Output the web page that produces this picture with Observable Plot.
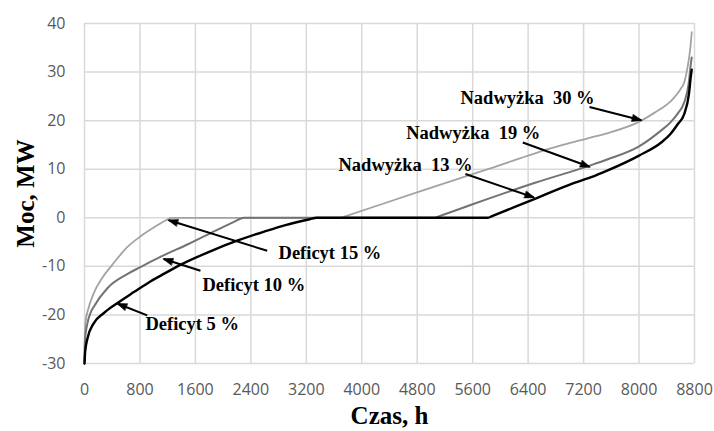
<!DOCTYPE html>
<html><head><meta charset="utf-8">
<script src="https://cdn.jsdelivr.net/npm/d3@7"></script>
<script src="https://cdn.jsdelivr.net/npm/@observablehq/plot@0.6"></script>
<style>html,body{margin:0;padding:0;background:#fff}</style>
</head><body><div id="chart"></div>
<script>
// Tick labels
const xTicks = [0, 800, 1600, 2400, 3200, 4000, 4800, 5600, 6400, 7200, 8000, 8800];
const yTicks = [-30, -20, -10, 0, 10, 20, 30, 40];

// Series: duration curves (hours, MW)
const hoursA = [0, 4, 14, 50, 134, 250, 400, 620, 800, 1000, 1150, 1260, 3700, 3760, 4850, 5820, 6750, 7300, 7540, 8020, 8220, 8450, 8600, 8650, 8700, 8740, 8760];
const mwA    = [-30, -25, -21.5, -19, -15.5, -12.5, -9.7, -6, -3.9, -2, -0.7, 0, 0, 0.28, 5.5, 10, 14.4, 16.5, 17.4, 19.9, 21.6, 23.9, 26.5, 27.8, 31, 35, 38.2];

const hoursB = [0, 8, 38, 90, 134, 330, 616, 800, 1100, 1500, 1900, 2150, 2300, 5050, 5110, 5330, 5820, 6500, 7300, 7540, 8000, 8320, 8450, 8560, 8650, 8715, 8750, 8760];
const mwB    = [-30, -25, -22, -19.5, -18.3, -14.5, -11.6, -10.2, -8.0, -5.4, -2.6, -0.9, 0, 0, 0.3, 1.4, 3.9, 7.2, 10.8, 12, 14.7, 18, 19.6, 21.5, 23.7, 27.5, 32, 33];

const hoursC = [0, 10, 40, 130, 280, 470, 712, 950, 1100, 1340, 1866, 2200, 2600, 2900, 3250, 3350, 5820, 5880, 6480, 7010, 7300, 7540, 8000, 8320, 8450, 8560, 8650, 8720, 8750, 8760];
const mwC    = [-30, -27.5, -25, -21.8, -19.6, -17.6, -15.3, -13.1, -11.9, -10.0, -6.6, -4.7, -2.8, -1.5, -0.3, 0, 0, 0.35, 3.8, 6.9, 8.3, 9.7, 12.8, 15.5, 17.2, 19.3, 21.3, 25.5, 29.5, 30.5];

// Annotations (data units)
const labelTexts = ["Nadwyżka  30 %", "Nadwyżka  19 %", "Nadwyżka  13 %", "Deficyt 15 %", "Deficyt 10 %", "Deficyt 5 %"];
const labelX = [5424, 4641, 3664, 2799, 1702, 880];
const labelY = [23.4, 16.2, 9.7, -8.4, -15.0, -23.2];
const arrowX1 = [7285, 6323, 5496, 2636, 1673, 905];
const arrowY1 = [22.8, 15.5, 9.0, -6.8, -10.9, -20.1];
const arrowX2 = [8031, 7285, 6482, 1216, 1144, 480];
const arrowY2 = [20.1, 10.5, 4.2, -0.5, -8.5, -17.7];

const toRows = (h, v) => h.map((x, i) => ({x, y: v[i]}));
const rowsA = toRows(hoursA, mwA);
const rowsB = toRows(hoursB, mwB);
const rowsC = toRows(hoursC, mwC);
const labels = labelTexts.map((t, i) => ({t, x: labelX[i], y: labelY[i]}));
const arrows = arrowX1.map((x1, i) => ({x1, y1: arrowY1[i], x2: arrowX2[i], y2: arrowY2[i]}));

const tickStyle = {tickSize: 0, fontSize: 16, fontFamily: "Open Sans", fill: "#595959", label: null, tickFormat: d => String(d)};
const titleStyle = {fontSize: 25, fontWeight: "bold", fontFamily: "Liberation Serif", fill: "#000", textAnchor: "middle", lineAnchor: "bottom"};

const plot = Plot.plot({
  width: 714, height: 431,
  marginTop: 23, marginBottom: 68, marginLeft: 84, marginRight: 20,
  x: {domain: [0, 8800]},
  y: {domain: [-30, 40]},
  style: {background: "#fff", overflow: "visible"},
  marks: [
    Plot.gridX(xTicks, {stroke: "#d9d9d9", strokeOpacity: 1, strokeWidth: 1.5}),
    Plot.gridY(yTicks, {stroke: "#d9d9d9", strokeOpacity: 1, strokeWidth: 1.5}),
    Plot.axisX(xTicks, {...tickStyle, tickPadding: 20}),
    Plot.axisY(yTicks, {...tickStyle, tickPadding: 19}),
    Plot.line(rowsA, {x: "x", y: "y", stroke: "#a3a3a3", strokeWidth: 1.8, curve: "monotone-x"}),
    Plot.line(rowsB, {x: "x", y: "y", stroke: "#737373", strokeWidth: 2, curve: "monotone-x"}),
    Plot.line(rowsC, {x: "x", y: "y", stroke: "#000", strokeWidth: 2.4, curve: "monotone-x"}),
    Plot.link(arrows, {x1: "x1", y1: "y1", x2: "x2", y2: "y2", stroke: "#000", strokeWidth: 2, markerEnd: "arrow"}),
    Plot.text(labels, {x: "x", y: "y", text: "t", textAnchor: "start", lineAnchor: "bottom", fontSize: 18.5, fontWeight: "bold", fontFamily: "Liberation Serif", fill: "#000"}),
    Plot.text(["Czas, h"], {...titleStyle, frameAnchor: "bottom", dy: 60}),
    Plot.text(["Moc, MW"], {...titleStyle, frameAnchor: "left", rotate: -90, dx: -51})
  ]
});

// Filled arrowheads
d3.select(plot).selectAll("marker")
  .attr("viewBox", "-10 -5 12 10")
  .attr("markerWidth", 12).attr("markerHeight", 10)
  .attr("markerUnits", "userSpaceOnUse")
  .attr("fill", "#000").attr("stroke", "#000").attr("stroke-width", 0.5)
  .selectAll("path").attr("d", "M-9,-3.6L1,0L-9,3.6Z");
d3.select(plot).selectAll("text").style("white-space", "pre");

document.getElementById("chart").appendChild(plot);
</script>
</body></html>
